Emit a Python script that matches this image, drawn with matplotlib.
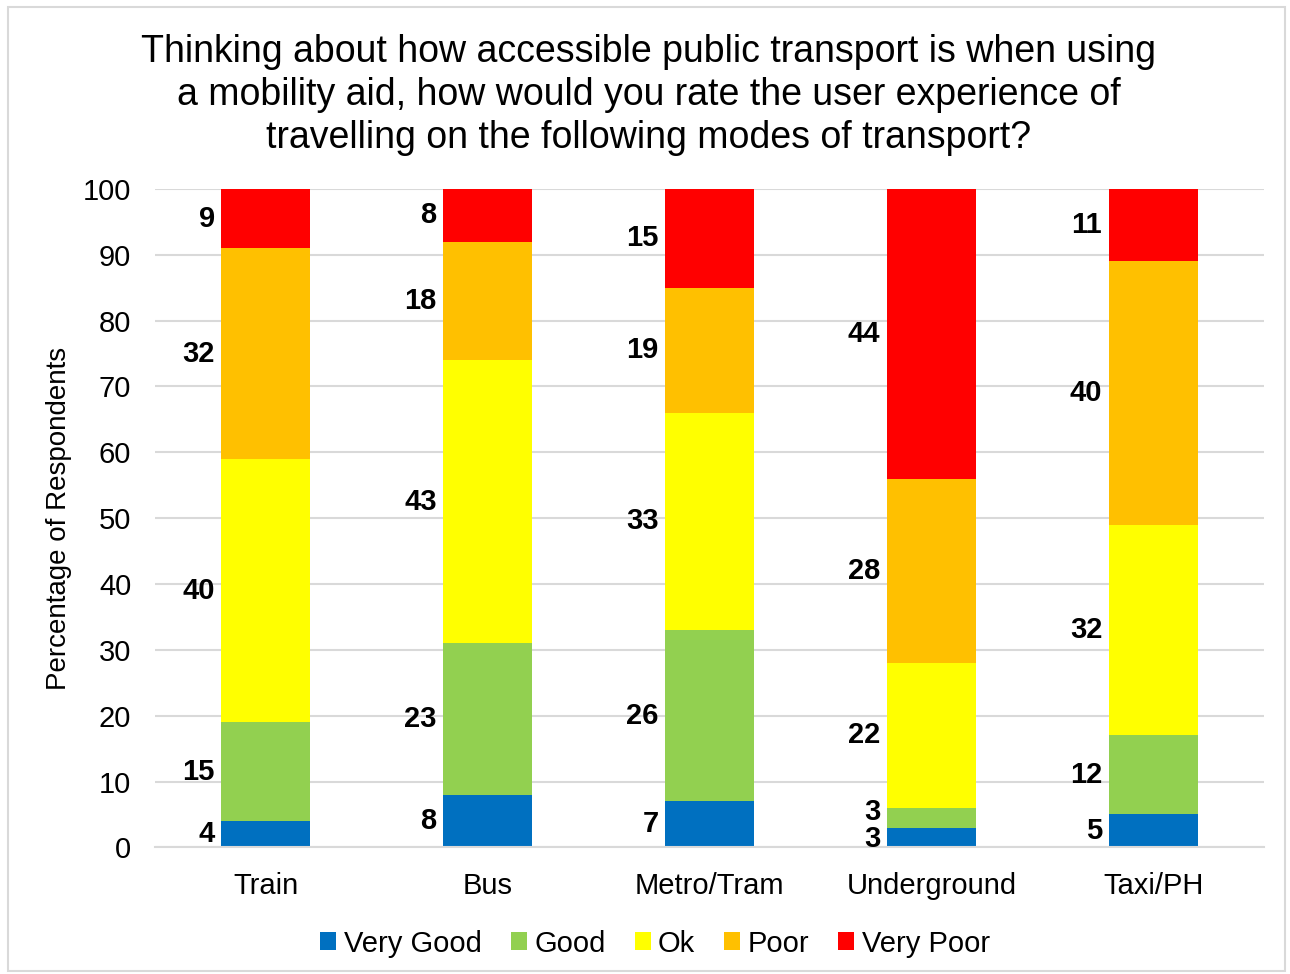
import matplotlib.pyplot as plt
import numpy as np
from matplotlib.patches import Rectangle

plt.rcParams['font.family'] = ['Liberation Sans', 'DejaVu Sans']

modes = ["Train", "Bus", "Metro/Tram", "Underground", "Taxi/PH"]
ratings = ["Very Good", "Good", "Ok", "Poor", "Very Poor"]
colours = ["#0070C0", "#92D050", "#FFFF00", "#FFC000", "#FF0000"]

very_good = [4, 8, 7, 3, 5]
good = [15, 23, 26, 3, 12]
ok = [40, 43, 33, 22, 32]
poor = [32, 18, 19, 28, 40]
very_poor = [9, 8, 15, 44, 11]

series = [very_good, good, ok, poor, very_poor]

fig = plt.figure(figsize=(12.9, 9.74), dpi=100)
ax = fig.add_axes([0.12, 0.13, 0.86, 0.676])

x = np.arange(len(modes))
width = 0.4
bottom = np.zeros(len(modes))
for name, vals, col in zip(ratings, series, colours):
    vals = np.array(vals, dtype=float)
    ax.bar(x, vals, width, bottom=bottom, color=col, label=name, zorder=2)
    for i in range(len(modes)):
        ymid = bottom[i] + vals[i] / 2
        # the two tiny underground segments get nudged apart
        if modes[i] == "Underground" and name == "Very Good":
            ymid -= 0.2
        if modes[i] == "Underground" and name == "Good":
            ymid += 0.9
        ax.text(x[i] - width / 2 - 0.03, ymid, str(int(vals[i])),
                ha="right", va="center", fontsize=21, fontweight="bold")
    bottom += vals

ax.set_xlim(-0.5, len(modes) - 0.5)
ax.set_ylim(0, 100)
ax.set_yticks(range(0, 101, 10))
ax.set_xticks(x)
ax.set_xticklabels(modes)
ax.tick_params(axis="both", length=0, labelsize=21, colors="black")
ax.tick_params(axis="y", pad=17)
ax.tick_params(axis="x", pad=18)
ax.grid(axis="y", color="#D9D9D9", linewidth=1.5, zorder=0)
ax.set_axisbelow(True)
for side in ["top", "right", "left"]:
    ax.spines[side].set_visible(False)
ax.spines["bottom"].set_color("#D9D9D9")
ax.spines["bottom"].set_linewidth(1.5)

ax.set_ylabel("Percentage of Respondents", fontsize=20, labelpad=8)

fig.suptitle("Thinking about how accessible public transport is when using\n"
             "a mobility aid, how would you rate the user experience of\n"
             "travelling on the following modes of transport?",
             fontsize=27, y=0.965, x=0.503, linespacing=1.25)

ax.legend(loc="upper center", bbox_to_anchor=(0.451, -0.085), ncol=5,
          frameon=False, fontsize=21, handlelength=0.55, handleheight=0.55,
          handletextpad=0.25, columnspacing=1.0)

fig.patches.append(Rectangle((0.006, 0.003), 0.99, 0.99, transform=fig.transFigure,
                             fill=False, edgecolor="#D9D9D9", linewidth=1.5))

fig.savefig("out.png", dpi=100)
